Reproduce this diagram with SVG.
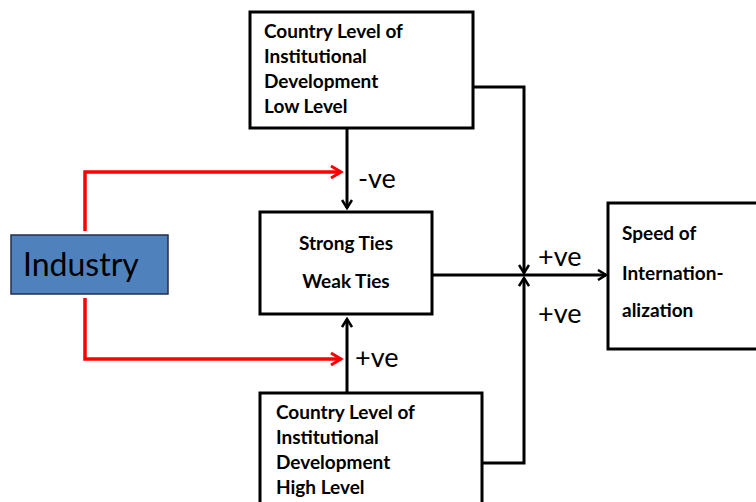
<svg xmlns="http://www.w3.org/2000/svg" width="756" height="502" viewBox="0 0 756 502">
<style>
.box{fill:#fff;stroke:#000;stroke-width:3}
.t{font-family:Lato,"Liberation Sans",sans-serif;font-weight:bold;font-size:19px;fill:#000}
.lbl{font-family:Lato,"Liberation Sans",sans-serif;font-size:27px;fill:#000}
.k{fill:none;stroke:#000;stroke-width:3}
.r{fill:none;stroke:#ff0000;stroke-width:3.5}
</style>
<defs>
<marker id="ak" markerWidth="12" markerHeight="12" refX="10" refY="6" orient="auto" markerUnits="userSpaceOnUse">
<polyline points="2,1 10,6 2,11" fill="none" stroke="#000" stroke-width="2.5"/>
</marker>
<marker id="ar" markerWidth="16" markerHeight="16" refX="13" refY="8" orient="auto" markerUnits="userSpaceOnUse">
<polyline points="3,2 13,8 3,14" fill="none" stroke="#ff0000" stroke-width="3"/>
</marker>
</defs>
<g id="connectors">
<path class="r" d="M85,231 V172 H341" marker-end="url(#ar)"/>
<path class="r" d="M85,298 V359 H341" marker-end="url(#ar)"/>
<path class="k" d="M347,128 V208" marker-end="url(#ak)"/>
<path class="k" d="M347,393 V319" marker-end="url(#ak)"/>
<path class="k" d="M473,87 H524 V273" marker-end="url(#ak)"/>
<path class="k" d="M482,463 H524 V278" marker-end="url(#ak)"/>
<path class="k" d="M432,275 H606" marker-end="url(#ak)"/>
<text class="lbl" x="358" y="188">-ve</text>
<text class="lbl" x="355" y="367">+ve</text>
<text class="lbl" x="538" y="266">+ve</text>
<text class="lbl" x="538" y="323">+ve</text>
</g>
<g id="industry">
<rect x="11" y="235" width="157" height="59" fill="#4f81bd" stroke="#1f2f4f" stroke-width="1.5"/>
<text x="23" y="276" font-family="Lato,'Liberation Sans',sans-serif" font-size="32" fill="#000">Industry</text>
</g>
<g id="low">
<rect class="box" x="250" y="12" width="223" height="116"/>
<text class="t" x="264" y="38">Country Level of</text>
<text class="t" x="264" y="63">Institutional</text>
<text class="t" x="264" y="88">Development</text>
<text class="t" x="264" y="113">Low Level</text>
</g>
<g id="ties">
<rect class="box" x="260" y="212" width="172" height="102"/>
<text class="t" x="346" y="250" text-anchor="middle">Strong Ties</text>
<text class="t" x="346" y="288" text-anchor="middle">Weak Ties</text>
</g>
<g id="high">
<rect class="box" x="260" y="393" width="222" height="120"/>
<text class="t" x="276" y="419">Country Level of</text>
<text class="t" x="276" y="444">Institutional</text>
<text class="t" x="276" y="469">Development</text>
<text class="t" x="276" y="494">High Level</text>
</g>
<g id="speed">
<rect class="box" x="608" y="203" width="160" height="146"/>
<text class="t" x="622" y="240">Speed of</text>
<text class="t" x="622" y="280">Internation-</text>
<text class="t" x="622" y="317">alization</text>
</g>
</svg>
